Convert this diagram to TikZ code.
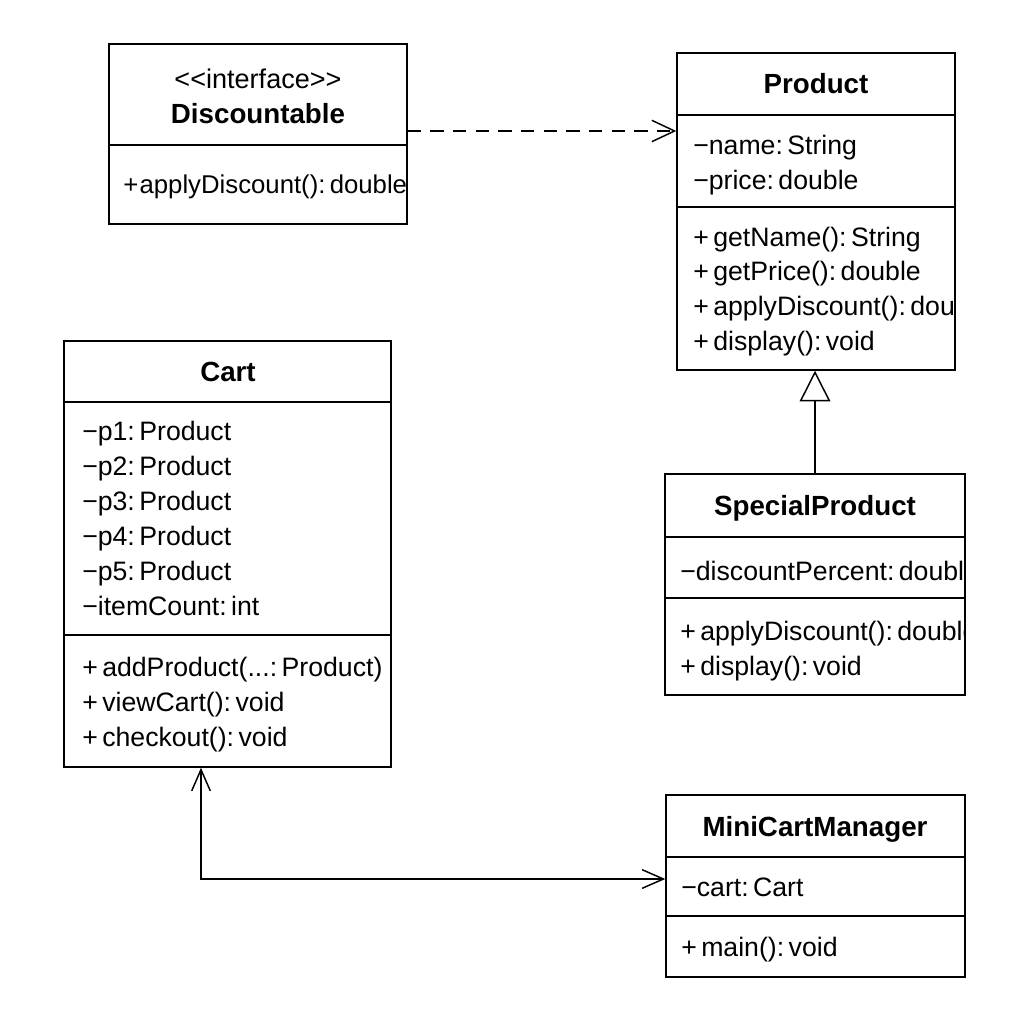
\documentclass[tikz,border=0pt]{standalone}
\usepackage{fontspec}
\setmainfont{Liberation Sans}
\usetikzlibrary{arrows.meta,fit}
\begin{document}
\begin{tikzpicture}[x=0.75pt,y=-0.75pt,
  box/.style={draw, line width=1.1pt, inner sep=0pt, rectangle},
  sep/.style={line width=0.9pt},
  txt/.style={anchor=west, inner sep=0pt, text height=16.5pt, text depth=2pt, font=\fontsize{20}{24}\selectfont},
  ttl/.style={inner sep=0pt, text height=16.5pt, text depth=2pt, font=\bfseries\fontsize{20.8}{24}\selectfont},
  stereo/.style={inner sep=0pt, text height=16.5pt, text depth=2pt, font=\fontsize{20.3}{24}\selectfont},
  conn/.style={line width=1.1pt},
  dep/.style={conn, dash pattern=on 10pt off 7pt, -{Straight Barb[length=17pt,width=16pt,line width=1.1pt]}},
  gen/.style={conn, -{Triangle[open, length=23pt, width=23pt, fill=white, line width=1.1pt]}},
  assoc/.style={conn, {Straight Barb[length=16pt,width=14pt,line width=1.1pt]}-{Straight Barb[length=16pt,width=14pt,line width=1.1pt]}}
]
\useasboundingbox[fill=white] (0,0) rectangle (1024,1024);

% ---------- Discountable ----------
\node[box, fit={(109,44) (407,224)}] (disc) {};
\begin{scope}
\clip (109,44) rectangle (407,224);
\node[stereo] (discst) at (258,79) {<\kern0pt<interface>\kern0pt>};
\node[ttl] (disct) at (258,114) {Discountable};
\node[txt, font=\fontsize{19.3}{24}\selectfont] (discm1) at (123,184) {+\kern1pt applyDiscount():\,double};
\end{scope}
\draw[sep] (disc.west |- 0,145) -- (disc.east |- 0,145);

% ---------- Product ----------
\node[box, fit={(677,53) (955,370)}] (prod) {};
\begin{scope}
\clip (677,53) rectangle (955,370);
\node[ttl] (prodt) at (816,84) {Product};
\node[txt] (proda1) at (693,145) {−name:\,String};
\node[txt] (proda2) at (693,180) {−price:\,double};
\node[txt] (prodm1) at (693,237) {+\,getName():\,String};
\node[txt] (prodm2) at (693,271) {+\,getPrice():\,double};
\node[txt] (prodm3) at (693,306) {+\,applyDiscount():\,double};
\node[txt] (prodm4) at (693,341) {+\,display():\,void};
\end{scope}
\draw[sep] (prod.west |- 0,115) -- (prod.east |- 0,115);
\draw[sep] (prod.west |- 0,207) -- (prod.east |- 0,207);

% ---------- Cart ----------
\node[box, fit={(64,341) (391,767)}] (cart) {};
\begin{scope}
\clip (64,341) rectangle (391,767);
\node[ttl] (cartt) at (228,372) {Cart};
\node[txt] (carta1) at (82,431) {−p1:\,Product};
\node[txt] (carta2) at (82,466) {−p2:\,Product};
\node[txt] (carta3) at (82,501) {−p3:\,Product};
\node[txt] (carta4) at (82,536) {−p4:\,Product};
\node[txt] (carta5) at (82,571) {−p5:\,Product};
\node[txt] (carta6) at (82,606) {−itemCount:\,int};
\node[txt] (cartm1) at (82,667) {+\,addProduct(...:\,Product)};
\node[txt] (cartm2) at (82,702) {+\,viewCart():\,void};
\node[txt] (cartm3) at (82,737) {+\,checkout():\,void};
\end{scope}
\draw[sep] (cart.west |- 0,402) -- (cart.east |- 0,402);
\draw[sep] (cart.west |- 0,635) -- (cart.east |- 0,635);

% ---------- SpecialProduct ----------
\node[box, fit={(665,474) (965,695)}] (spec) {};
\begin{scope}
\clip (665,474) rectangle (965,695);
\node[ttl] (spect) at (815,506) {SpecialProduct};
\node[txt] (speca1) at (680,571) {−discountPercent:\,double};
\node[txt] (specm1) at (680,631) {+\,applyDiscount():\,double};
\node[txt] (specm2) at (680,666) {+\,display():\,void};
\end{scope}
\draw[sep] (spec.west |- 0,537) -- (spec.east |- 0,537);
\draw[sep] (spec.west |- 0,598) -- (spec.east |- 0,598);

% ---------- MiniCartManager ----------
\node[box, fit={(666,795) (965,977)}] (mini) {};
\begin{scope}
\clip (666,795) rectangle (965,977);
\node[ttl] (minit) at (815,827) {MiniCartManager};
\node[txt] (minia1) at (681,887) {−cart:\,Cart};
\node[txt] (minim1) at (681,947) {+\,main():\,void};
\end{scope}
\draw[sep] (mini.west |- 0,857) -- (mini.east |- 0,857);
\draw[sep] (mini.west |- 0,916) -- (mini.east |- 0,916);

% ---------- connectors ----------
\coordinate (dy) at (0,131);
\draw[dep] (disc.east |- dy) -- (prod.west |- dy);
\draw[gen] (spec.north) -- (spec.north |- prod.south);
\coordinate (bend) at (201,879);
\draw[assoc] (bend |- cart.south) -- (bend) -- (bend -| mini.west);
\end{tikzpicture}
\end{document}
